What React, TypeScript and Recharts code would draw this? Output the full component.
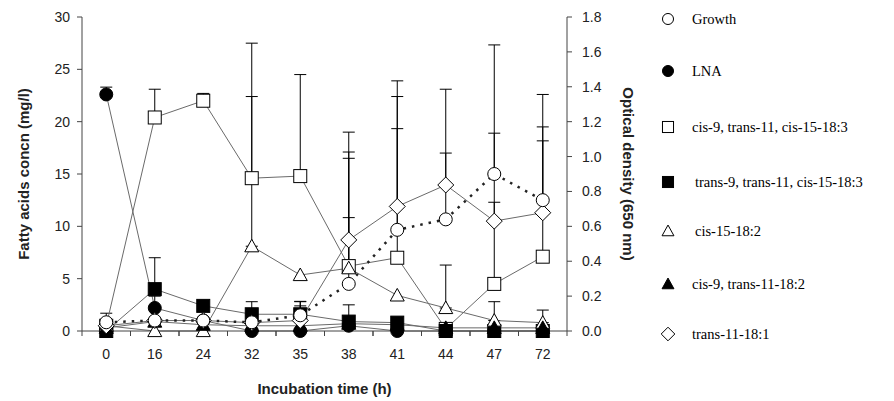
import React from 'react';
import { LineChart, Line, XAxis, YAxis, ErrorBar, Legend, Label } from 'recharts';

// incubation times (categorical, equally spaced)
const hours = ['0', '16', '24', '32', '35', '38', '41', '44', '47', '72'];

// Growth is optical density (right axis), the rest are mg/l (left axis)
const growth = [0.05, 0.06, 0.06, 0.05, 0.09, 0.27, 0.58, 0.64, 0.9, 0.75];
const growthErr = [null, 0.14, null, null, 0.08, 0.38, 0.58, 0.38, 0.74, 0.34];

const lna = [22.6, 2.2, 1.0, 0, 0, 0.5, 0, 0, 0, 0];
const lnaErr = [0.7, null, null, null, null, null, null, null, null, null];

const c9t11c15 = [0.5, 20.4, 22.0, 14.6, 14.8, 6.2, 7.0, 0.2, 4.5, 7.1];
const c9t11c15Err = [1.2, 2.7, 0.7, 12.9, 9.7, 12.8, 15.4, null, 7.8, 15.5];

const t9t11c15 = [0, 4.0, 2.4, 1.6, 1.6, 0.9, 0.8, 0, 0, 0];
const t9t11c15Err = [null, 3.0, null, 1.2, 1.2, 1.6, null, null, null, null];

const c15 = [0.5, 0, 0, 8.1, 5.35, 6.0, 3.4, 2.2, 1.0, 0.8];
const c15Err = [null, null, null, 14.3, null, 10.5, null, 4.1, 1.8, 1.2];

const c9t11 = [0.3, 0.9, 0.6, 0.5, 0.5, 0.7, 0.6, 0.3, 0.3, 0.3];

const t11 = [0.5, 1.0, 1.0, 0.8, 1.0, 8.7, 11.9, 13.95, 10.5, 11.3];
const t11Err = [null, null, null, null, 1.4, 8.4, 12.0, 9.15, 8.4, 8.2];

const leftTicks = [0, 5, 10, 15, 20, 25, 30];
const rightTicks = [0, 0.2, 0.4, 0.6, 0.8, 1.0, 1.2, 1.4, 1.6, 1.8];

const up = (v: number | null) => (v == null ? null : [0, v]);

const data = hours.map((h, i) => ({
  hour: h,
  growth: growth[i],
  growthErr: up(growthErr[i]),
  lna: lna[i],
  lnaErr: up(lnaErr[i]),
  c9t11c15: c9t11c15[i],
  c9t11c15Err: up(c9t11c15Err[i]),
  t9t11c15: t9t11c15[i],
  t9t11c15Err: up(t9t11c15Err[i]),
  c15: c15[i],
  c15Err: up(c15Err[i]),
  c9t11: c9t11[i],
  t11: t11[i],
  t11Err: up(t11Err[i]),
}));

type Shape = 'circle' | 'dot' | 'square' | 'block' | 'triangle' | 'solidTriangle' | 'diamond';

const series: { key: string; name: string; shape: Shape; axis: string; err?: string; dashed?: boolean; legendX?: number }[] = [
  { key: 'growth', name: 'Growth', shape: 'circle', axis: 'right', err: 'growthErr', dashed: true },
  { key: 'lna', name: 'LNA', shape: 'dot', axis: 'left', err: 'lnaErr' },
  { key: 'c9t11c15', name: 'cis-9, trans-11, cis-15-18:3', shape: 'square', axis: 'left', err: 'c9t11c15Err' },
  { key: 't9t11c15', name: 'trans-9, trans-11, cis-15-18:3', shape: 'block', axis: 'left', err: 't9t11c15Err', legendX: 3 },
  { key: 'c15', name: 'cis-15-18:2', shape: 'triangle', axis: 'left', err: 'c15Err', legendX: 3 },
  { key: 'c9t11', name: 'cis-9, trans-11-18:2', shape: 'solidTriangle', axis: 'left' },
  { key: 't11', name: 'trans-11-18:1', shape: 'diamond', axis: 'left', err: 't11Err' },
];

// growth circles sit on top of the other marks
const drawOrder = [...series.slice(1), series[0]];

const legendRows = [19, 71, 127, 182, 231, 284, 334];

const font = 'Arial, "Liberation Sans", sans-serif';
const ink = '#222';
const halfBand = 24.25;

function Marker({ cx, cy, shape, legend }: { cx: number; cy: number; shape: Shape; legend?: boolean }) {
  if (cx == null || cy == null) return null;
  const s = legend ? 0.85 : 1;
  switch (shape) {
    case 'circle':
      return <circle cx={cx} cy={cy} r={6.5 * s} fill="#fff" stroke="#000" strokeWidth={1} />;
    case 'dot':
      return <circle cx={cx} cy={cy} r={6.5 * s} fill="#000" stroke="#000" />;
    case 'square':
      return <rect x={cx - 6.5 * s} y={cy - 6.5 * s} width={13 * s} height={13 * s} fill="#fff" stroke="#000" strokeWidth={1} />;
    case 'block':
      return <rect x={cx - 6.5 * s} y={cy - 6.5 * s} width={13 * s} height={13 * s} fill="#000" stroke="#000" />;
    case 'triangle': {
      const h = 7 * s;
      return <polygon points={`${cx},${cy - h} ${cx + h},${cy + h * 0.8} ${cx - h},${cy + h * 0.8}`} fill="#fff" stroke="#000" strokeWidth={1} />;
    }
    case 'solidTriangle': {
      const h = 7 * s;
      return <polygon points={`${cx},${cy - h} ${cx + h},${cy + h * 0.8} ${cx - h},${cy + h * 0.8}`} fill="#000" stroke="#000" />;
    }
    case 'diamond': {
      const h = 8 * s;
      return <polygon points={`${cx},${cy - h} ${cx + h},${cy} ${cx},${cy + h} ${cx - h},${cy}`} fill="#fff" stroke="#000" strokeWidth={1} />;
    }
  }
  return null;
}

const XTick = (props: any) => {
  const { x, y, payload } = props;
  return (
    <g>
      <line x1={x - halfBand} y1={y} x2={x - halfBand} y2={y + 5} stroke="#444" />
      <line x1={x + halfBand} y1={y} x2={x + halfBand} y2={y + 5} stroke="#444" />
      <text x={x} y={y + 28} textAnchor="middle" fill={ink} fontSize={14} fontFamily={font}>
        {payload.value}
      </text>
    </g>
  );
};

const LegendBox = () => (
  <svg width={240} height={350} style={{ display: 'block' }}>
    {series.map((s, i) => (
      <g key={s.key}>
        <Marker cx={13} cy={legendRows[i]} shape={s.shape} legend />
        <text x={37 + (s.legendX || 0)} y={legendRows[i]} dominantBaseline="central" fontSize={14.5} fill="#000" fontFamily='"Liberation Serif", "Times New Roman", serif'>
          {s.name}
        </text>
      </g>
    ))}
  </svg>
);

const rotTitle = (text: string, cx: number, cy: number, angle: number) => (
  <text x={cx} y={cy} transform={`rotate(${angle} ${cx} ${cy})`} textAnchor="middle" dominantBaseline="central" fontSize={15} fontWeight="bold" fill={ink} fontFamily={font}>
    {text}
  </text>
);

export default function App() {
  return (
    <div style={{ position: 'absolute', left: 0, top: 0, width: 894, height: 401, background: '#fff' }}>
      <LineChart width={894} height={401} data={data} margin={{ top: 17, right: 247, bottom: 0, left: 0 }}>
        <XAxis dataKey="hour" height={70} padding={{ left: halfBand, right: halfBand }} tickSize={0} tickMargin={0} tickLine={false} tick={<XTick />} axisLine={{ stroke: '#444' }} interval={0}>
          <Label content={(p: any) => rotTitle('Incubation time (h)', p.viewBox.x + p.viewBox.width / 2, p.viewBox.y + 57, 0)} />
        </XAxis>
        <YAxis yAxisId="left" width={82} domain={[0, 30]} ticks={leftTicks} tickSize={5} tickMargin={7} axisLine={{ stroke: '#444' }} tickLine={{ stroke: '#444' }} tick={{ fill: ink, fontSize: 14, fontFamily: font }}>
          <Label content={(p: any) => rotTitle('Fatty acids concn (mg/l)', 23, p.viewBox.y + p.viewBox.height / 2, -90)} />
        </YAxis>
        <YAxis yAxisId="right" orientation="right" width={80} domain={[0, 1.8]} ticks={rightTicks} tickFormatter={(v: number) => v.toFixed(1)} tickSize={5} tickMargin={10} axisLine={{ stroke: '#444' }} tickLine={{ stroke: '#444' }} tick={{ fill: ink, fontSize: 14, fontFamily: font }}>
          <Label content={(p: any) => rotTitle('Optical density (650 nm)', p.viewBox.x + 61, p.viewBox.y + p.viewBox.height / 2, 90)} />
        </YAxis>
        <Legend layout="vertical" align="center" verticalAlign="middle" wrapperStyle={{ position: 'absolute', left: 655, top: 0, width: 240, height: 350 }} content={() => <LegendBox />} />
        {drawOrder.map((s) => (
          <Line
            key={s.key}
            yAxisId={s.axis}
            dataKey={s.key}
            name={s.name}
            type="linear"
            stroke={s.dashed ? '#222' : '#6a6a6a'}
            strokeWidth={s.dashed ? 2.5 : 1}
            strokeDasharray={s.dashed ? '2.5 6' : undefined}
            isAnimationActive={false}
            dot={(p: any) => <Marker key={`${s.key}-${p.index}`} cx={p.cx} cy={p.cy} shape={s.shape} />}
            activeDot={false}
          >
            {s.err ? <ErrorBar dataKey={s.err} direction="y" width={6} stroke="#000" strokeWidth={1} /> : null}
          </Line>
        ))}
      </LineChart>
    </div>
  );
}
